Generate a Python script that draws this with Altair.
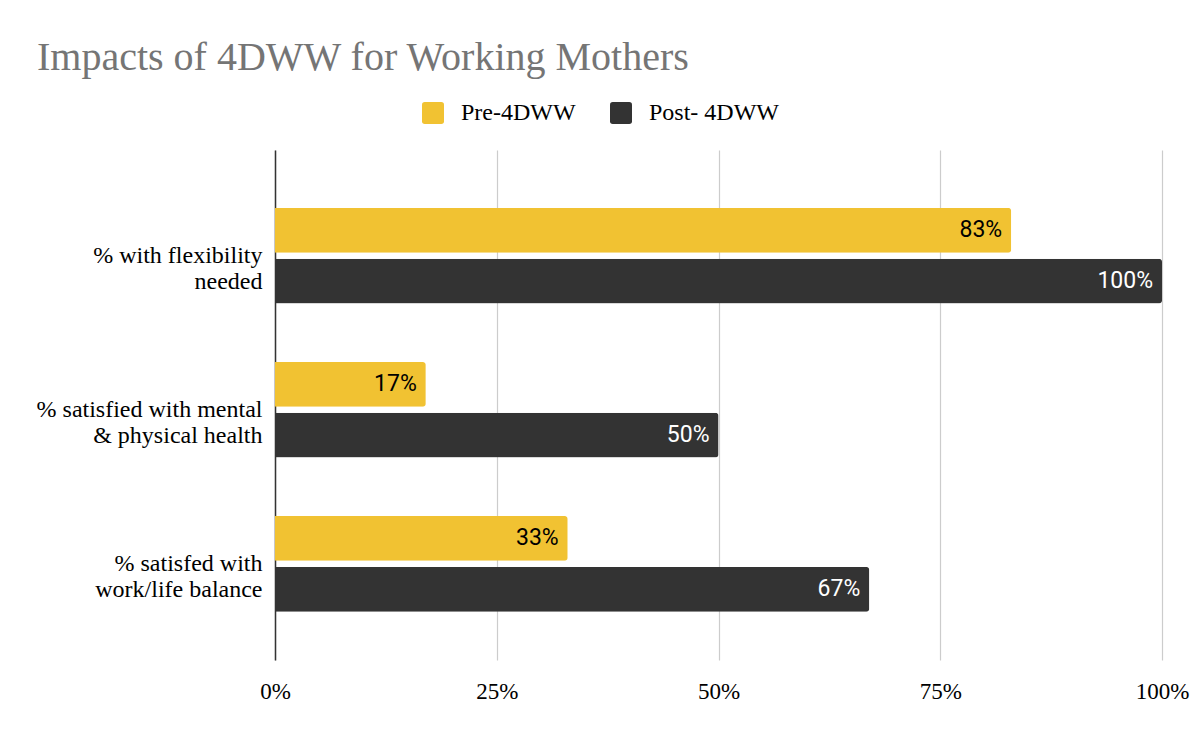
import altair as alt
import pandas as pd

categories = ["% with flexibility|needed", "% satisfied with mental|& physical health", "% satisfed with|work/life balance"]
series = ["Pre-4DWW", "Post- 4DWW"]
pre_values = [83, 17, 33]
post_values = [100, 50, 67]
x_ticks = [0, 25, 50, 75, 100]
colors = ["#f1c232", "#333333"]

rows = []
for c, p, q in zip(categories, pre_values, post_values):
    rows.append({"category": c, "series": series[0], "value": p})
    rows.append({"category": c, "series": series[1], "value": q})
df = pd.DataFrame(rows)

rounded = "M-1,-0.75 Q-1,-1 -0.75,-1 L0.75,-1 Q1,-1 1,-0.75 L1,0.75 Q1,1 0.75,1 L-0.75,1 Q-1,1 -1,0.75 Z"

y_enc = alt.Y("category:N", sort=categories,
              scale=alt.Scale(paddingInner=0.38, paddingOuter=0.345, align=0.545),
              axis=alt.Axis(title=None, labelExpr="split(datum.label, '|')",
                            labelFont="Liberation Serif", labelFontSize=24, labelColor="#000000",
                            labelLineHeight=26, labelPadding=13, labelLimit=400, ticks=False,
                            domain=True, domainColor="#333333", domainWidth=1.5, grid=False))
yoff = alt.YOffset("series:N", sort=series, scale=alt.Scale(paddingInner=0.12))
x_enc = alt.X("value:Q", scale=alt.Scale(domain=[0, 100]),
              axis=alt.Axis(title=None, values=x_ticks, labelExpr="datum.value + '%'",
                            labelFont="Liberation Serif", labelFontSize=23, labelColor="#000000",
                            labelPadding=20, labelFlush=False, ticks=False, domain=False,
                            grid=True, gridColor="#cccccc", gridWidth=1.2))

bars = alt.Chart(df).mark_bar(cornerRadiusEnd=3).encode(
    y=y_enc, yOffset=yoff, x=x_enc,
    color=alt.Color("series:N", sort=series,
                    scale=alt.Scale(domain=series, range=colors),
                    legend=alt.Legend(title=None, orient="none", direction="horizontal",
                                      legendX=146, legendY=-49, symbolType=rounded,
                                      symbolSize=484, symbolStrokeWidth=0, symbolOpacity=1,
                                      labelFont="Liberation Serif", labelFontSize=24,
                                      labelColor="#000000", labelOffset=16, columnPadding=33,
                                      padding=0)),
)

labels = alt.Chart(df).mark_text(align="right", baseline="middle", dx=-9,
                                 font="Roboto", fontSize=23).encode(
    y=alt.Y("category:N", sort=categories), yOffset=alt.YOffset("series:N", sort=series),
    x=alt.X("value:Q"),
    text=alt.Text("label:N"),
    color=alt.condition(alt.datum.series == series[0], alt.value("#000000"), alt.value("#ffffff")),
).transform_calculate(label="datum.value + '%'")

chart = alt.layer(bars, labels).properties(
    width=887, height=510,
    title=alt.TitleParams("Impacts of 4DWW for Working Mothers", anchor="start", frame="group",
                          font="Liberation Serif", fontSize=40, fontWeight="normal",
                          color="#757575", dx=-238, dy=42, baseline="alphabetic", offset=33),
    autosize=alt.AutoSizeParams(type="none"),
    padding={"left": 267, "top": 142, "right": 30, "bottom": 74},
).configure_view(stroke=None)

chart.save("out.html", embed_options={"renderer": "svg", "actions": False})
